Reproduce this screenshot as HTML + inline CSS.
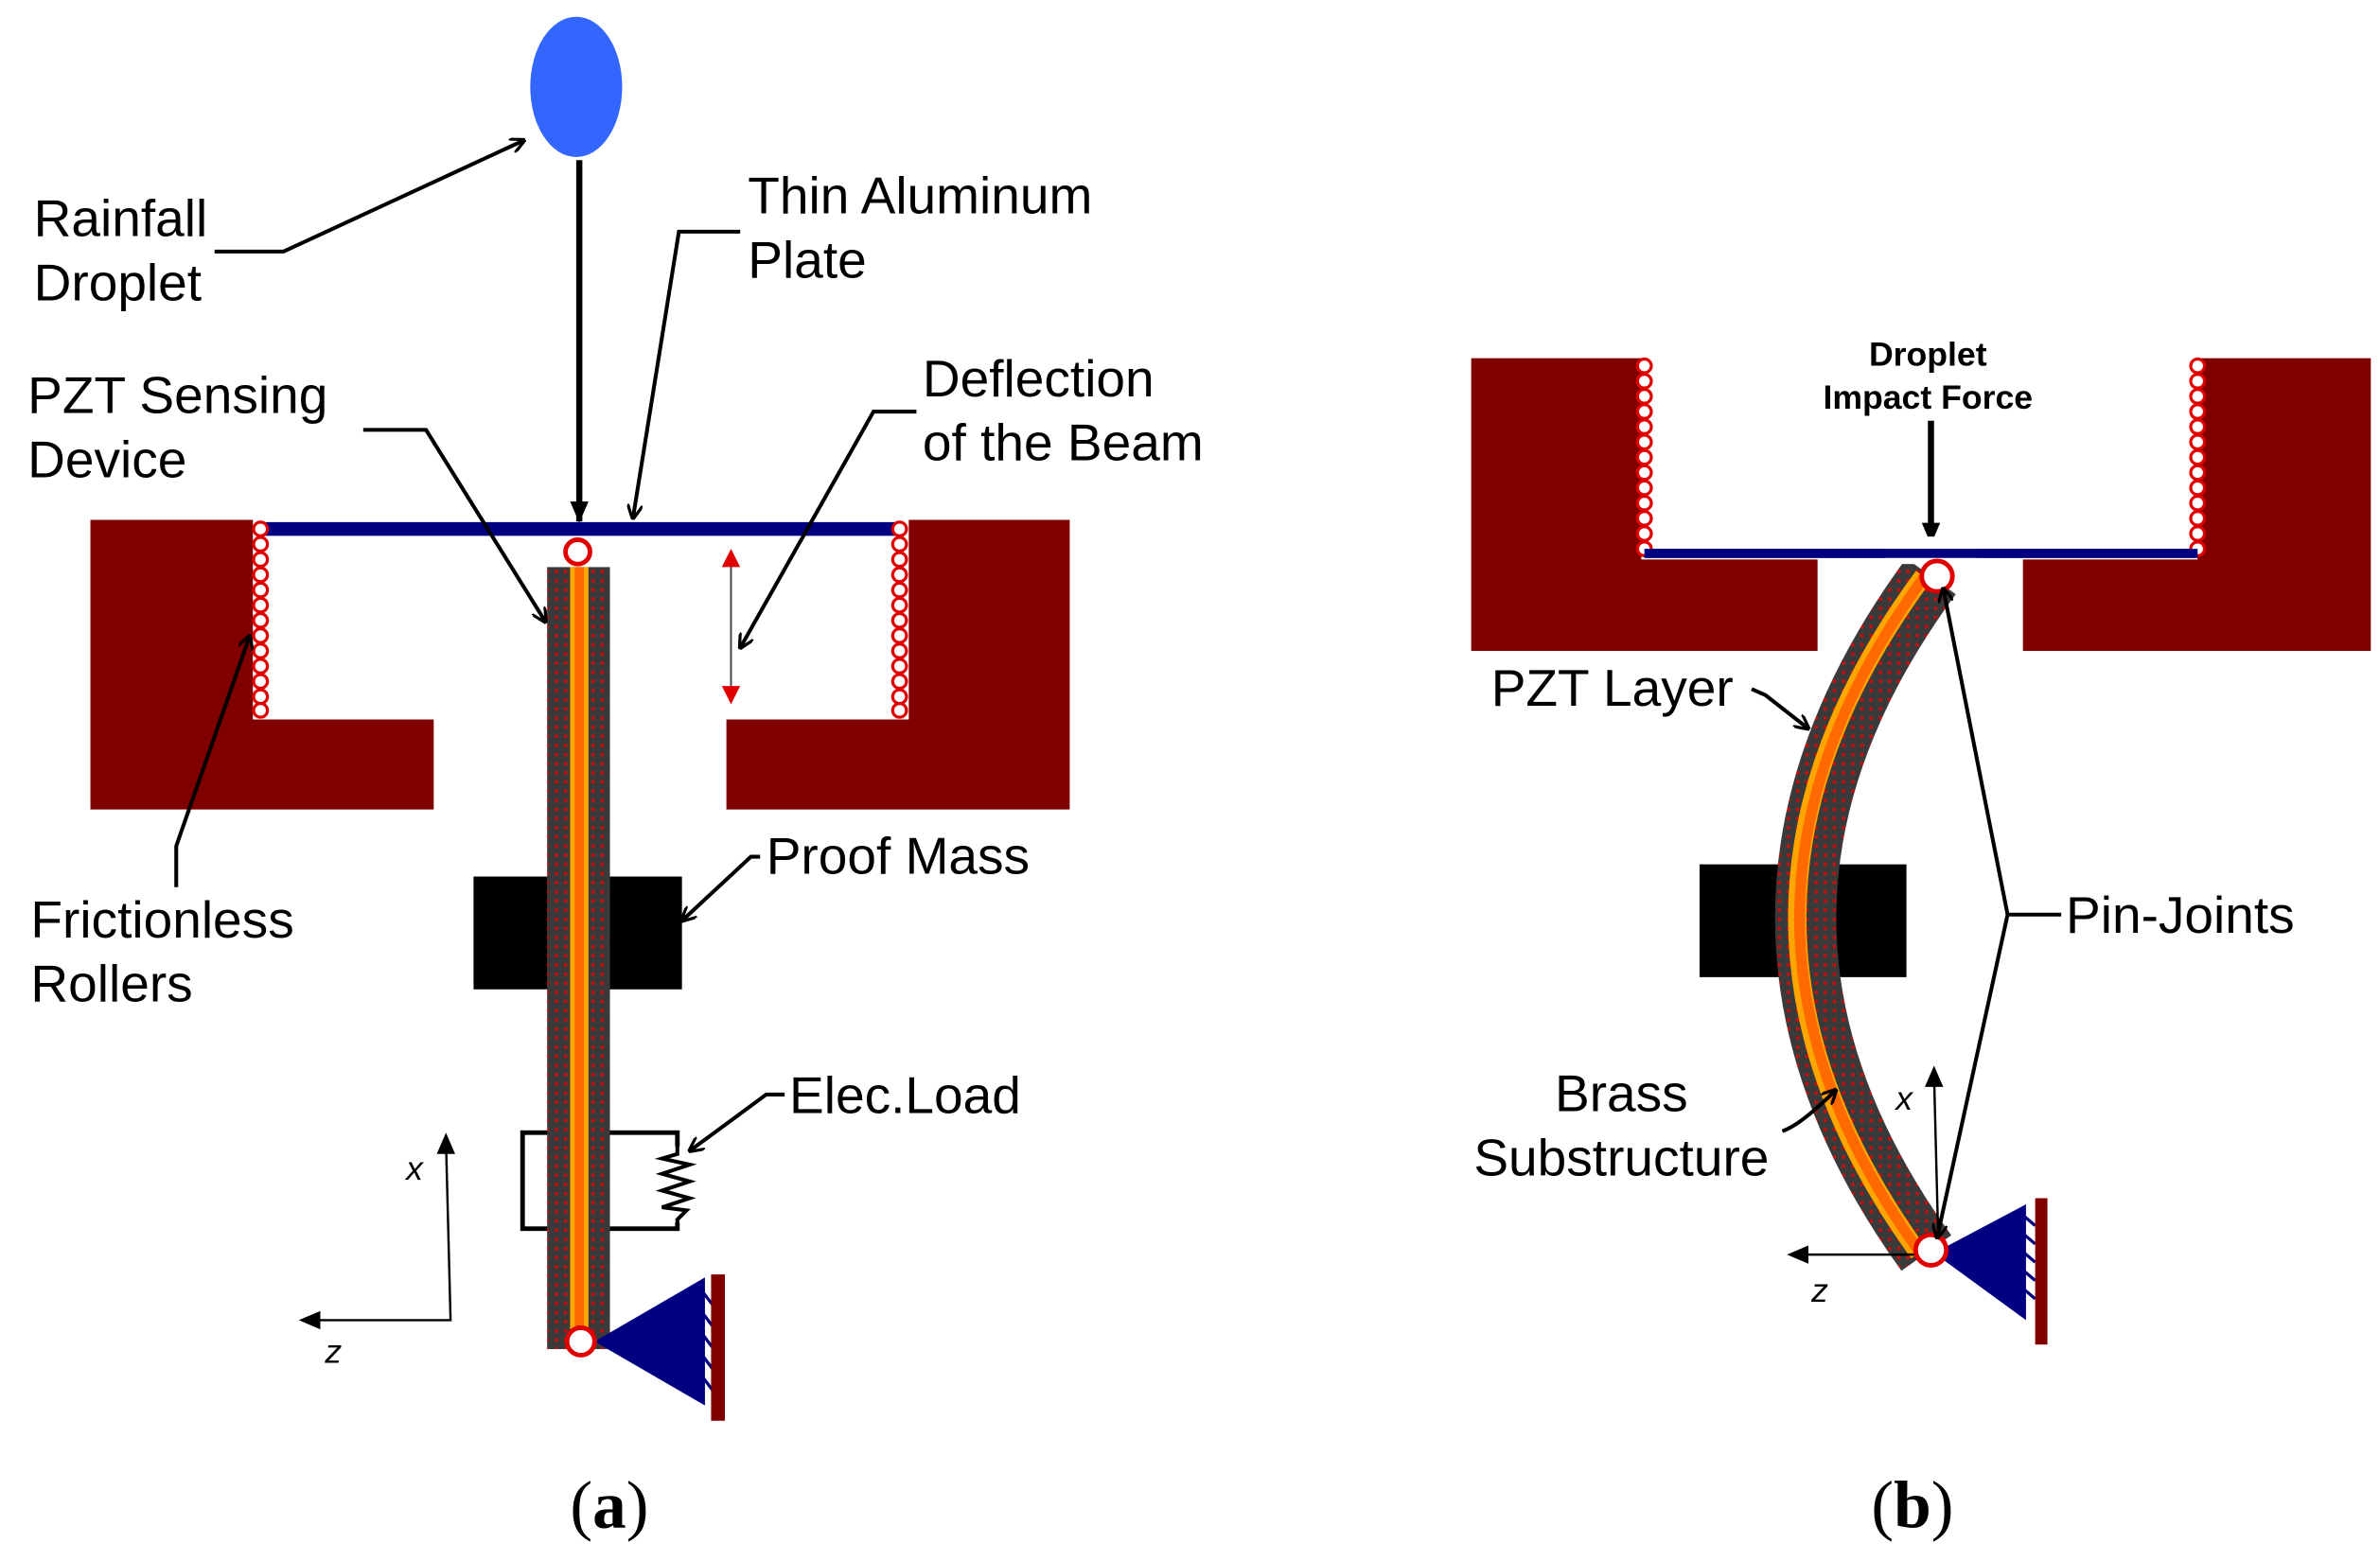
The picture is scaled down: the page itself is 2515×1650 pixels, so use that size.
<!DOCTYPE html>
<html><head><meta charset="utf-8"><style>
html,body{margin:0;padding:0;background:#fff}
svg{display:block}
text{font-family:"Liberation Sans",sans-serif;fill:#000}
</style></head><body>
<svg width="2515" height="1650" viewBox="0 0 1553 1024" preserveAspectRatio="none" xmlns="http://www.w3.org/2000/svg">
<defs>
<pattern id="dots" width="6" height="6" patternUnits="userSpaceOnUse">
<rect width="6" height="6" fill="#3a3a3a"/><circle cx="3" cy="3" r="1.3" fill="#c01010"/>
</pattern>
<marker id="ah" markerWidth="10" markerHeight="10" refX="9" refY="5" orient="auto" markerUnits="userSpaceOnUse">
<path d="M0,0 L10,5 L0,10" fill="none" stroke="#000" stroke-width="2"/>
</marker>
<marker id="ahf" markerWidth="14" markerHeight="12" refX="13" refY="6" orient="auto" markerUnits="userSpaceOnUse">
<path d="M0,0 L14,6 L0,12 Z" fill="#000"/>
</marker>
<marker id="ahr" markerWidth="10" markerHeight="10" refX="9" refY="5" orient="auto" markerUnits="userSpaceOnUse">
<path d="M0,0 L10,5 L0,10 Z" fill="#e00000"/>
</marker>
</defs>

<!-- (a) -->
<ellipse cx="376" cy="57" rx="30" ry="46" fill="#3366ff"/>
<line x1="378" y1="105" x2="378" y2="342" stroke="#000" stroke-width="4" marker-end="url(#ahf)"/>
<path d="M59,341 H165 V472 H283 V531 H59 Z" fill="#800000"/>
<path d="M593,341 H698 V531 H474 V472 H593 Z" fill="#800000"/>
<line x1="170" y1="347" x2="585" y2="347" stroke="#000080" stroke-width="9"/>
<g fill="#fff" stroke="#e00000" stroke-width="2">
<circle cx="170" cy="347" r="4.5"/><circle cx="170" cy="357" r="4.5"/><circle cx="170" cy="367" r="4.5"/><circle cx="170" cy="377" r="4.5"/><circle cx="170" cy="387" r="4.5"/><circle cx="170" cy="397" r="4.5"/><circle cx="170" cy="407" r="4.5"/><circle cx="170" cy="417" r="4.5"/><circle cx="170" cy="427" r="4.5"/><circle cx="170" cy="437" r="4.5"/><circle cx="170" cy="447" r="4.5"/><circle cx="170" cy="457" r="4.5"/><circle cx="170" cy="466" r="4.5"/>
<circle cx="587" cy="347" r="4.5"/><circle cx="587" cy="357" r="4.5"/><circle cx="587" cy="367" r="4.5"/><circle cx="587" cy="377" r="4.5"/><circle cx="587" cy="387" r="4.5"/><circle cx="587" cy="397" r="4.5"/><circle cx="587" cy="407" r="4.5"/><circle cx="587" cy="417" r="4.5"/><circle cx="587" cy="427" r="4.5"/><circle cx="587" cy="437" r="4.5"/><circle cx="587" cy="447" r="4.5"/><circle cx="587" cy="457" r="4.5"/><circle cx="587" cy="466" r="4.5"/>
</g>
<!-- elec load box -->
<rect x="341" y="743" width="101" height="63" fill="none" stroke="#000" stroke-width="3"/>
<rect x="436" y="752" width="12" height="50" fill="#fff"/>
<path d="M442,743 V757 L432,760 L450,764 L432,770 L450,775 L432,781 L450,786 L432,792 L448,794 L442,800 V806" fill="none" stroke="#000" stroke-width="2.5"/>
<!-- proof mass -->
<rect x="309" y="575" width="136" height="74" fill="#000"/>
<!-- beam -->
<rect x="357" y="372" width="41" height="513" fill="url(#dots)"/>
<rect x="372" y="372" width="12" height="513" fill="#ffa500"/>
<rect x="375" y="372" width="6" height="513" fill="#ff6a00"/>
<circle cx="377" cy="362" r="8" fill="#fff" stroke="#e00000" stroke-width="3"/>
<!-- support -->
<path d="M388,880 L460,838 L460,922 Z" fill="#000080"/>
<g stroke="#000080" stroke-width="2"><line x1="459" y1="848" x2="465" y2="856"/><line x1="459" y1="862" x2="465" y2="870"/><line x1="459" y1="876" x2="465" y2="884"/><line x1="459" y1="890" x2="465" y2="898"/><line x1="459" y1="904" x2="465" y2="912"/></g>
<rect x="464" y="836" width="9" height="96" fill="#800000"/>
<circle cx="379" cy="880" r="9" fill="#fff" stroke="#e00000" stroke-width="3"/>
<!-- axes -->
<path d="M197,866 H294 L291,748" fill="none" stroke="#000" stroke-width="1.5"/>
<path d="M285,757 L291,743 L297,757 Z" fill="#000"/>
<path d="M209,860 L195,866 L209,872 Z" fill="#000"/>
<text x="265" y="774" font-size="22" font-style="italic">x</text>
<text x="212" y="894" font-size="22" font-style="italic">z</text>
<!-- deflection arrow -->
<line x1="477" y1="362" x2="477" y2="460" stroke="#444" stroke-width="1.2"/>
<path d="M471,372 L477,360 L483,372 Z" fill="#e00000"/>
<path d="M471,450 L477,462 L483,450 Z" fill="#e00000"/>
<!-- labels a -->
<g font-size="34">
<text x="22" y="155">Rainfall</text><text x="22" y="197">Droplet</text>
<text x="488" y="140">Thin Aluminum</text><text x="488" y="182">Plate</text>
<text x="18" y="271">PZT Sensing</text><text x="18" y="313">Device</text>
<text x="602" y="260">Deflection</text><text x="602" y="302">of the Beam</text>
<text x="20" y="615">Frictionless</text><text x="20" y="657">Rollers</text>
<text x="500" y="573">Proof Mass</text>
<text x="515" y="730">Elec.Load</text>
</g>
<g fill="none" stroke="#000" stroke-width="2.5" marker-end="url(#ah)">
<path d="M140,165 H185 L342,92"/>
<path d="M483,152 H443 L413,340"/>
<path d="M237,282 H278 L356,408"/>
<path d="M598,270 H570 L483,425"/>
<path d="M115,582 V555 L163,417"/>
<path d="M496,562 H490 L445,604"/>
<path d="M512,718 H500 L450,755"/>
</g>

<!-- (b) -->
<path d="M960,235 H1071 V367 H1186 V427 H960 Z" fill="#800000"/>
<path d="M1434,235 H1547 V427 H1320 V367 H1434 Z" fill="#800000"/>
<line x1="1073" y1="363" x2="1434" y2="363" stroke="#000080" stroke-width="6"/>
<g fill="#fff" stroke="#e00000" stroke-width="2">
<circle cx="1073" cy="240" r="4.5"/><circle cx="1073" cy="250" r="4.5"/><circle cx="1073" cy="260" r="4.5"/><circle cx="1073" cy="270" r="4.5"/><circle cx="1073" cy="280" r="4.5"/><circle cx="1073" cy="290" r="4.5"/><circle cx="1073" cy="300" r="4.5"/><circle cx="1073" cy="310" r="4.5"/><circle cx="1073" cy="320" r="4.5"/><circle cx="1073" cy="330" r="4.5"/><circle cx="1073" cy="340" r="4.5"/><circle cx="1073" cy="350" r="4.5"/><circle cx="1073" cy="360" r="4.5"/>
<circle cx="1434" cy="240" r="4.5"/><circle cx="1434" cy="250" r="4.5"/><circle cx="1434" cy="260" r="4.5"/><circle cx="1434" cy="270" r="4.5"/><circle cx="1434" cy="280" r="4.5"/><circle cx="1434" cy="290" r="4.5"/><circle cx="1434" cy="300" r="4.5"/><circle cx="1434" cy="310" r="4.5"/><circle cx="1434" cy="320" r="4.5"/><circle cx="1434" cy="330" r="4.5"/><circle cx="1434" cy="340" r="4.5"/><circle cx="1434" cy="350" r="4.5"/><circle cx="1434" cy="360" r="4.5"/>
</g>
<g font-size="22" font-weight="bold" text-anchor="middle">
<text x="1258" y="240">Droplet</text><text x="1258" y="268">Impact Force</text>
</g>
<line x1="1260" y1="276" x2="1260" y2="356" stroke="#000" stroke-width="4" marker-end="url(#ahf)"/>
<rect x="1109" y="567" width="135" height="74" fill="#000"/>
<path d="M1260,378 Q1098,600 1257,822" fill="none" stroke="url(#dots)" stroke-width="40"/>
<path d="M1255,378 Q1092,600 1252,822" fill="none" stroke="#ffa500" stroke-width="12"/>
<path d="M1256,378 Q1094,600 1253,822" fill="none" stroke="#ff6a00" stroke-width="7"/>
<rect x="1230" y="352" width="60" height="18" fill="#fff"/>
<line x1="1073" y1="363" x2="1434" y2="363" stroke="#000080" stroke-width="6"/>
<path d="M1262,822 L1322,790 L1322,866 Z" fill="#000080"/>
<g stroke="#000080" stroke-width="2"><line x1="1321" y1="798" x2="1328" y2="804"/><line x1="1321" y1="810" x2="1328" y2="816"/><line x1="1321" y1="822" x2="1328" y2="828"/><line x1="1321" y1="834" x2="1328" y2="840"/><line x1="1321" y1="846" x2="1328" y2="852"/></g>
<rect x="1328" y="786" width="8" height="96" fill="#800000"/>
<path d="M1170,823 H1265 L1262,705" fill="none" stroke="#000" stroke-width="1.5"/>
<path d="M1256,713 L1262,699 L1268,713 Z" fill="#000"/>
<path d="M1180,817 L1166,823 L1180,829 Z" fill="#000"/>
<text x="1237" y="728" font-size="22" font-style="italic">x</text>
<text x="1182" y="854" font-size="22" font-style="italic">z</text>
<circle cx="1264" cy="378" r="10" fill="#fff" stroke="#e00000" stroke-width="3"/>
<circle cx="1260" cy="820" r="10" fill="#fff" stroke="#e00000" stroke-width="3"/>
<g font-size="34">
<text x="973" y="463">PZT Layer</text>
<text x="1058" y="729" text-anchor="middle">Brass</text>
<text x="1058" y="771" text-anchor="middle">Substructure</text>
<text x="1348" y="612">Pin-Joints</text>
</g>
<g fill="none" stroke="#000" stroke-width="2.5" marker-end="url(#ah)">
<path d="M1143,452 L1152,456 L1180,478"/>
<path d="M1163,742 Q1175,738 1198,715"/>
<path d="M1345,600 H1310 L1268,386"/>
<path d="M1310,600 L1264,812"/>
</g>

<g font-family="Liberation Serif,serif" font-size="44">
<text x="372" y="1002" style="font-family:'Liberation Serif',serif">(<tspan font-weight="bold">a</tspan>)</text>
<text x="1221" y="1002" style="font-family:'Liberation Serif',serif">(<tspan font-weight="bold">b</tspan>)</text>
</g>
</svg>
</body></html>
